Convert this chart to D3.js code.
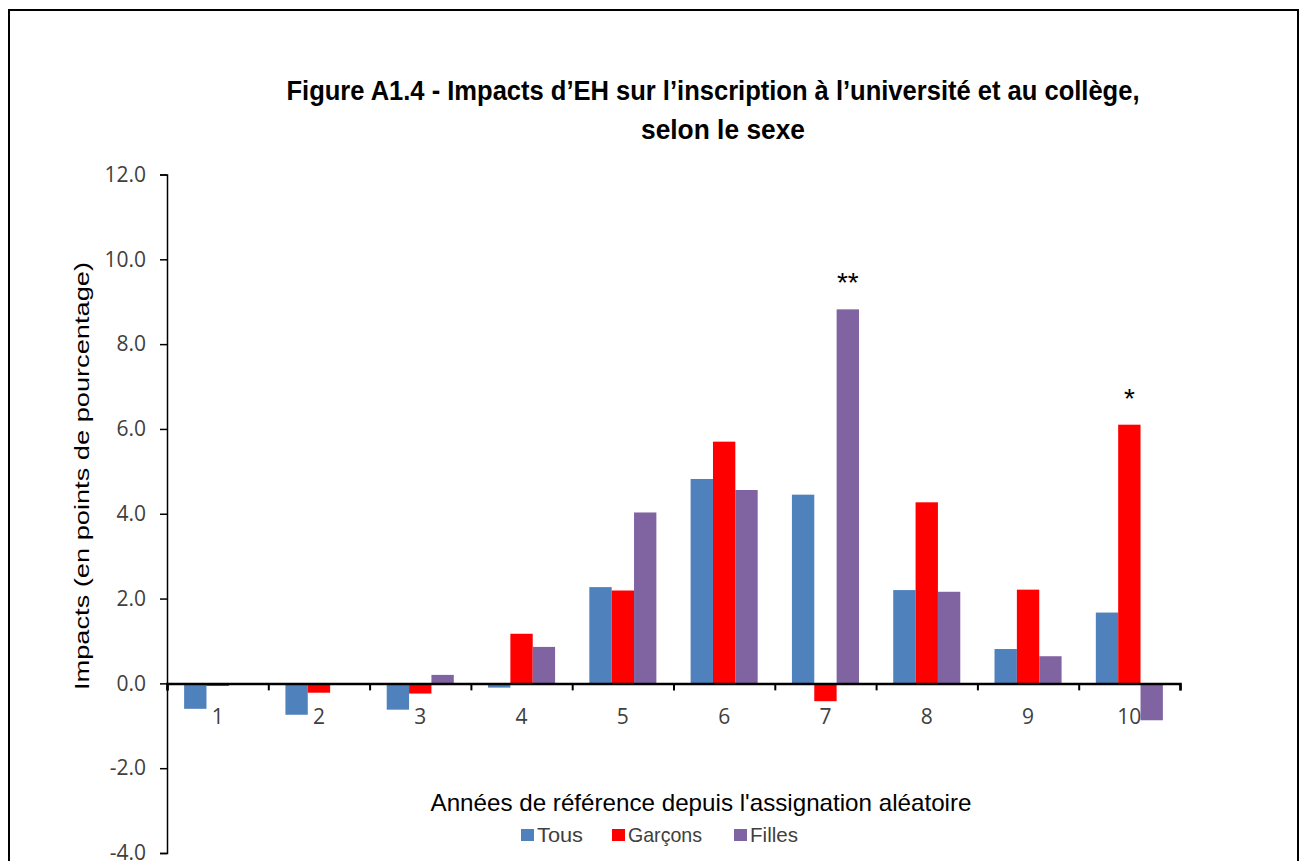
<!DOCTYPE html>
<html>
<head>
<meta charset="utf-8">
<script src="https://cdn.jsdelivr.net/npm/d3@7/dist/d3.min.js"></script>
<style>
  body { margin: 0; background: #fff; }
</style>
</head>
<body>
<div id="chartContainer"></div>
<script type="text/javascript">

// data
var years = ["1", "2", "3", "4", "5", "6", "7", "8", "9", "10"];
var seriesNames = ["Tous", "Garçons", "Filles"];
var tous    = [-0.60, -0.74, -0.62, -0.10, 2.27, 4.82, 4.45, 2.20, 0.81, 1.67];
var garcons = [-0.06, -0.22, -0.24, 1.17, 2.19, 5.70, -0.42, 4.27, 2.21, 6.10];
var filles  = [0.00, 0.00, 0.20, 0.86, 4.03, 4.56, 8.82, 2.16, 0.64, -0.87];
var yTicks = [-4, -2, 0, 2, 4, 6, 8, 10, 12];
// significance marks: [year, series, label]
var marks = [["7", "Filles", "**"], ["10", "Garçons", "*"]];

var colors = {"Tous": "#4F81BD", "Garçons": "#FF0000", "Filles": "#8064A2"};
var values = {"Tous": tous, "Garçons": garcons, "Filles": filles};

var W = 1301, H = 861;
var svg = d3.select("#chartContainer").append("svg")
    .attr("width", W).attr("height", H);

// outer frame
svg.append("rect")
    .attr("x", 9).attr("y", 10).attr("width", 1289).attr("height", 870)
    .attr("fill", "none").attr("stroke", "#000").attr("stroke-width", 2);

var left = 167, right = 1180;
var y = d3.scaleLinear().domain([-4, 12]).range([853, 174.5]);
var x = d3.scaleBand().domain(years).range([left, right])
    .paddingInner(0.338).paddingOuter(0.169);
var xs = d3.scaleBand().domain(seriesNames).range([0, x.bandwidth()]);

var labelFont = "'Open Sans', sans-serif";
var narrowFont = "'Liberation Sans Narrow', 'Arial Narrow', 'Liberation Sans', sans-serif";
var fmt = d3.format(".1f");

// title
var title = [["Figure A1.4 - Impacts d\u2019EH sur l\u2019inscription à l\u2019université et au collège,", 713, 100, 853],
             ["selon le sexe", 723, 139, 164]];
svg.selectAll("text.title").data(title).enter().append("text")
    .attr("class", "title")
    .attr("x", function(d) { return d[1]; })
    .attr("y", function(d) { return d[2]; })
    .attr("text-anchor", "middle")
    .attr("textLength", function(d) { return d[3]; })
    .attr("lengthAdjust", "spacingAndGlyphs")
    .style("font-family", narrowFont)
    .style("font-weight", "bold")
    .style("font-size", "28px")
    .style("fill", "#000")
    .text(function(d) { return d[0]; });

// bars
var groups = svg.selectAll("g.year").data(years).enter().append("g")
    .attr("class", "year")
    .attr("transform", function(d) { return "translate(" + x(d) + ",0)"; });

groups.selectAll("rect").data(function(d, i) {
      return seriesNames.map(function(s) { return {s: s, v: values[s][i]}; });
    })
    .enter().append("rect")
    .attr("x", function(d) { return xs(d.s); })
    .attr("width", xs.bandwidth())
    .attr("y", function(d) { return y(Math.max(0, d.v)); })
    .attr("height", function(d) { return Math.abs(y(d.v) - y(0)); })
    .attr("fill", function(d) { return colors[d.s]; });

// y axis
var yAxis = svg.append("g")
    .attr("transform", "translate(" + left + ",0)")
    .call(d3.axisLeft(y).tickValues(yTicks).tickSize(7).tickPadding(14)
          .tickFormat(function(d) { return fmt(d).replace("\u2212", "-"); }));
yAxis.attr("font-size", null);
yAxis.select(".domain").attr("stroke", "#000").attr("stroke-width", 1.5);
yAxis.selectAll(".tick line").attr("stroke", "#000").attr("stroke-width", 1.5);
yAxis.selectAll(".tick text")
    .attr("font-size", 21)
    .style("font-family", labelFont).style("font-size", "21px").style("fill", "#404040");

// x axis at zero: boundary ticks
var xb = d3.scaleLinear().domain([0, years.length]).range([left, right]);
var xAxis = svg.append("g")
    .attr("transform", "translate(0," + y(0) + ")")
    .call(d3.axisBottom(xb).ticks(years.length).tickSizeInner(7).tickSizeOuter(7)
          .tickFormat(""));
xAxis.select(".domain").attr("stroke", "#000").attr("stroke-width", 2.5);
xAxis.selectAll(".tick line").attr("stroke", "#000").attr("stroke-width", 2);

// category labels
svg.append("g").selectAll("text").data(years).enter().append("text")
    .attr("x", function(d) { return x(d) + x.bandwidth() / 2; })
    .attr("y", y(0) + 41)
    .attr("text-anchor", "middle")
    .style("font-family", labelFont).style("font-size", "21px").style("fill", "#404040")
    .text(function(d) { return d; });

// significance marks
svg.append("g").selectAll("text").data(marks).enter().append("text")
    .attr("x", function(d) { return x(d[0]) + xs(d[1]) + xs.bandwidth() / 2; })
    .attr("y", function(d) {
      var v = values[d[1]][years.indexOf(d[0])];
      return y(v) - 17;
    })
    .attr("text-anchor", "middle")
    .style("font-family", "'Liberation Sans', sans-serif")
    .style("font-size", "28px").style("fill", "#000")
    .text(function(d) { return d[2]; });

// axis titles
svg.append("text")
    .attr("transform", "translate(89,476) rotate(-90)")
    .attr("text-anchor", "middle")
    .attr("textLength", 428).attr("lengthAdjust", "spacingAndGlyphs")
    .style("font-family", narrowFont).style("font-size", "21px").style("fill", "#000")
    .text("Impacts (en points de pourcentage)");

svg.append("text")
    .attr("x", 701).attr("y", 811)
    .attr("text-anchor", "middle")
    .attr("textLength", 541).attr("lengthAdjust", "spacingAndGlyphs")
    .style("font-family", narrowFont).style("font-size", "24px").style("fill", "#000")
    .text("Années de référence depuis l'assignation aléatoire");

// legend
var legend = [["Tous", 521, 46], ["Garçons", 612, 74], ["Filles", 734, 48]];
var lg = svg.append("g").selectAll("g").data(legend).enter().append("g");
lg.append("rect")
    .attr("x", function(d) { return d[1]; }).attr("y", 829)
    .attr("width", 13).attr("height", 12)
    .attr("fill", function(d) { return colors[d[0]]; });
lg.append("text")
    .attr("x", function(d) { return d[1] + 16; }).attr("y", 842)
    .attr("textLength", function(d) { return d[2]; }).attr("lengthAdjust", "spacingAndGlyphs")
    .style("font-family", narrowFont).style("font-size", "21px").style("fill", "#404040")
    .text(function(d) { return d[0]; });

</script>
</body>
</html>
